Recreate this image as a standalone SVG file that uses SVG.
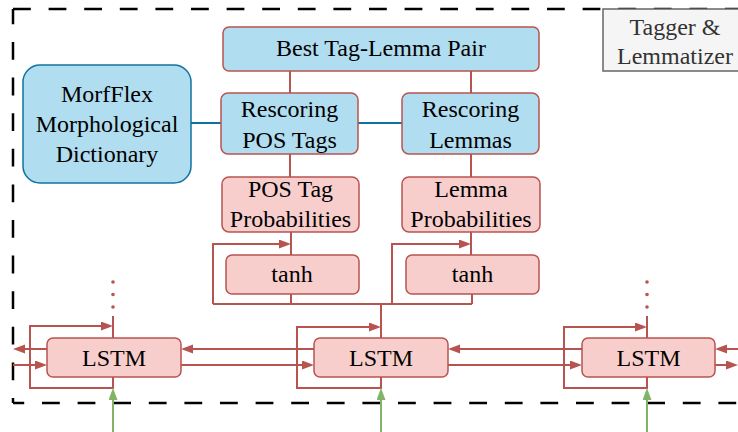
<svg xmlns="http://www.w3.org/2000/svg" width="738" height="432" viewBox="0 0 738 432">
<style>
text{font-family:'Liberation Serif','DejaVu Serif',serif;font-size:24px;fill:#000;text-anchor:middle}
.tg{fill:#333333}
.blue{fill:#b1ddf0;stroke:#b85450;stroke-width:1.5}
.bluem{fill:#b1ddf0;stroke:#10739e;stroke-width:1.5}
.red{fill:#f8cecc;stroke:#b85450;stroke-width:1.5}
.rl{fill:none;stroke:#b85450;stroke-width:2}
.bl{fill:none;stroke:#10739e;stroke-width:2}
.gl{fill:none;stroke:#82b366;stroke-width:2}
.dash{fill:none;stroke:#000;stroke-width:2.5;stroke-dasharray:17.8 17.8}
</style>
<defs>
<marker id="ar" markerUnits="userSpaceOnUse" markerWidth="14" markerHeight="10" refX="2" refY="4.5" orient="auto">
<path d="M0,0 L12,4.5 L0,9 z" fill="#b85450"/>
</marker>
<marker id="ag" markerUnits="userSpaceOnUse" markerWidth="14" markerHeight="10" refX="2" refY="4.5" orient="auto">
<path d="M0,0 L12,4.5 L0,9 z" fill="#82b366"/>
</marker>
</defs>
<rect width="738" height="432" fill="#fff"/>
<g id="frame">
<line class="dash" x1="13" y1="9" x2="760" y2="9"/>
<line class="dash" x1="13" y1="9" x2="13" y2="403" style="stroke-dashoffset:2.6"/>
<line class="dash" x1="13" y1="403" x2="760" y2="403" style="stroke-dashoffset:6.6"/>
</g>
<g id="connectors">
<path class="rl" d="M290,71 V93 M471,71 V93 M290,154 V177 M471,154 V177"/>
<path class="bl" d="M191,123 H221 M358,123 H402"/>
<path class="rl" d="M291,232 V255 M471,232 V255"/>
<path class="rl" d="M381,338 V304 M213,304 H472 M291,304 V294 M472,304 V294"/>
<path class="rl" d="M213,304 V244 H281" marker-end="url(#ar)"/>
<path class="rl" d="M392,304 V244 H461" marker-end="url(#ar)"/>
<path class="rl" d="M113,316 V338 M647,316 V338"/>
<g fill="#b85450"><circle cx="113" cy="282" r="1.8"/><circle cx="113" cy="294.5" r="1.8"/><circle cx="113" cy="307" r="1.8"/><circle cx="647" cy="282" r="1.8"/><circle cx="647" cy="294.5" r="1.8"/><circle cx="647" cy="307" r="1.8"/></g>
<path class="rl" d="M113,377 V388 H30 V326 H103" marker-end="url(#ar)"/>
<path class="rl" d="M381,377 V388 H297 V327 H371" marker-end="url(#ar)"/>
<path class="rl" d="M647,377 V388 H564 V327 H637" marker-end="url(#ar)"/>
<path class="rl" d="M47,349 H23" marker-end="url(#ar)"/>
<path class="rl" d="M13,365 H37" marker-end="url(#ar)"/>
<path class="rl" d="M314,349 H191" marker-end="url(#ar)"/>
<path class="rl" d="M181,365 H304" marker-end="url(#ar)"/>
<path class="rl" d="M582,349 H458" marker-end="url(#ar)"/>
<path class="rl" d="M448,365 H572" marker-end="url(#ar)"/>
<path class="rl" d="M740,349 H725" marker-end="url(#ar)"/>
<path class="rl" d="M715,365 H728" marker-end="url(#ar)"/>
<path class="gl" d="M113,432 V398" marker-end="url(#ag)"/>
<path class="gl" d="M381,432 V398" marker-end="url(#ag)"/>
<path class="gl" d="M647,432 V398" marker-end="url(#ag)"/>
</g>
<g id="tagger"><rect x="603" y="9" width="150" height="62" fill="#f5f5f5" stroke="#666666" stroke-width="1.5"/>
<text class="tg" x="675" y="35" font-family="Liberation Serif, serif">Tagger &amp;</text><text class="tg" x="675" y="64" font-family="Liberation Serif, serif">Lemmatizer</text></g>
<g id="best"><rect class="blue" x="223" y="27" width="316" height="44" rx="6"/><text x="381" y="56">Best Tag-Lemma Pair</text></g>
<g id="morfflex"><rect class="bluem" x="23" y="65" width="168" height="118" rx="17"/>
<text x="107" y="102">MorfFlex</text><text x="107" y="132">Morphological</text><text x="107" y="162">Dictionary</text></g>
<g id="rescoring-pos"><rect class="blue" x="221" y="93" width="137" height="61" rx="7"/>
<text x="289.5" y="117">Rescoring</text><text x="289.5" y="148">POS Tags</text></g>
<g id="rescoring-lemmas"><rect class="blue" x="402" y="93" width="137" height="61" rx="7"/>
<text x="470.5" y="117">Rescoring</text><text x="470.5" y="148">Lemmas</text></g>
<g id="pos-prob"><rect class="red" x="222" y="177" width="137" height="55" rx="7"/>
<text x="290.5" y="197">POS Tag</text><text x="290.5" y="227">Probabilities</text></g>
<g id="lemma-prob"><rect class="red" x="402" y="177" width="138" height="55" rx="7"/>
<text x="471" y="197">Lemma</text><text x="471" y="227">Probabilities</text></g>
<g id="tanh-left"><rect class="red" x="226" y="255" width="133" height="39" rx="6"/><text x="292" y="282">tanh</text></g>
<g id="tanh-right"><rect class="red" x="406" y="255" width="133" height="39" rx="6"/><text x="472.5" y="282">tanh</text></g>
<g id="lstm-left"><rect class="red" x="47" y="338" width="134" height="39" rx="6"/><text x="114" y="366">LSTM</text></g>
<g id="lstm-center"><rect class="red" x="314" y="338" width="134" height="39" rx="6"/><text x="381" y="366">LSTM</text></g>
<g id="lstm-right"><rect class="red" x="582" y="338" width="133" height="39" rx="6"/><text x="648.5" y="366">LSTM</text></g>
</svg>
